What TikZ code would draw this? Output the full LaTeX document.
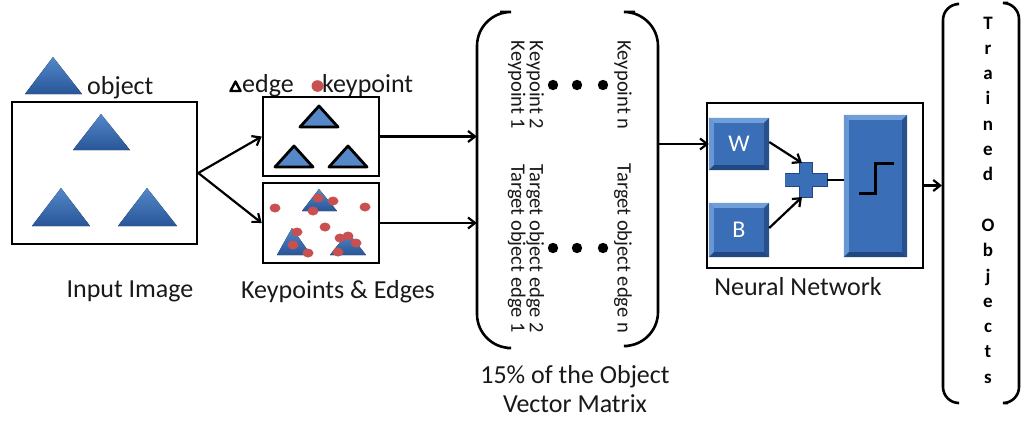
\documentclass[tikz,border=0pt]{standalone}
\usepackage{fontspec}
\setmainfont{Carlito}
\usetikzlibrary{arrows.meta,calc}
\definecolor{triT}{RGB}{84,136,200}
\definecolor{triB}{RGB}{40,86,152}
\definecolor{kpred}{RGB}{200,80,80}
\definecolor{bvface}{RGB}{58,110,182}
\definecolor{bvlight}{RGB}{112,158,216}
\definecolor{bvdark}{RGB}{34,72,130}
\definecolor{txt}{RGB}{25,25,25}
\newcommand{\bevelit}[1]{%
  \fill[bvlight] (#1.north west) -- (#1.north east) -- ([shift={(-5,-5)}]#1.north east) -- ([shift={(5,-5)}]#1.north west) -- cycle;
  \fill[bvlight!85!bvface] (#1.north west) -- ([shift={(5,-5)}]#1.north west) -- ([shift={(5,5)}]#1.south west) -- (#1.south west) -- cycle;
  \fill[bvdark] (#1.south west) -- (#1.south east) -- ([shift={(-5,5)}]#1.south east) -- ([shift={(5,5)}]#1.south west) -- cycle;
  \fill[bvdark!80!bvface] (#1.north east) -- ([shift={(-5,-5)}]#1.north east) -- ([shift={(-5,5)}]#1.south east) -- (#1.south east) -- cycle;
}
\begin{document}
\begin{tikzpicture}[x=1pt,y=1pt,
  box/.style={draw=black,line width=2.6pt,fill=white,inner sep=0pt},
  arr/.style={line width=2.2pt,-{Straight Barb[length=7pt,width=11pt]}},
  ln/.style={line width=2.2pt},
  tri/.style={top color=triT,bottom color=triB},
  etri/.style={fill=triT,draw=black,line width=2.8pt,line join=round},
  kp/.style={fill=kpred},
  lbl/.style={font=\fontsize{26}{28}\selectfont,text=txt,inner sep=0pt},
  rot/.style={rotate=-90,font=\fontsize{20.5}{18.5}\selectfont,text=txt,align=center,inner sep=0pt},
  paren/.style={line width=2.6pt,rounded corners=34pt},
  bvbox/.style={fill=bvface,inner sep=0pt,text=white,font=\fontsize{24}{26}\selectfont},
  tl/.style={font=\bfseries\fontsize{19}{19}\selectfont,text=black,inner sep=0pt}
]
\useasboundingbox (0,0) rectangle (1021,-421);

% legend object
\fill[tri] (25,-94) -- (53,-57) -- (82,-94) -- cycle;
\node[lbl,anchor=base west] (objtxt) at (87,-94) {object};

% input image
\node[box,minimum width=185pt,minimum height=142pt] (inbox) at (104.5,-173) {};
\fill[tri] (73,-150) -- (101,-114) -- (130,-150) -- cycle;
\fill[tri] (32,-226) -- (61,-188) -- (90,-226) -- cycle;
\fill[tri] (118,-226) -- (147,-188) -- (177,-226) -- cycle;
\node[lbl,anchor=base] (inlbl) at (130,-297) {Input Image};

% legend edge / keypoint
\draw[line width=2.4pt,line join=round] (230.5,-91) -- (235.5,-81.5) -- (240.5,-91) -- cycle;
\node[lbl,anchor=base west] (edgetxt) at (242,-92) {edge};
\fill[kpred] (317.5,-86) ellipse (6 and 5.8);
\node[lbl,anchor=base west] (kptxt) at (322,-92) {keypoint};

% keypoint boxes
\node[box,minimum width=116pt,minimum height=79pt] (kbox1) at (321,-136.5) {};
\draw[etri] (300,-127) -- (319,-106) -- (338,-127) -- cycle;
\draw[etri] (275,-167) -- (294,-146) -- (313,-167) -- cycle;
\draw[etri] (329,-167) -- (348,-146) -- (367,-167) -- cycle;

\node[box,minimum width=116pt,minimum height=80pt] (kbox2) at (321,-223) {};
\fill[tri] (302,-211) -- (319,-189) -- (337,-211) -- cycle;
\fill[tri] (277,-255) -- (292,-228) -- (311,-255) -- cycle;
\fill[tri] (330,-255) -- (348,-232) -- (366,-255) -- cycle;
\foreach \px/\py in {275/208, 318/198, 333/201, 313/211, 365/207, 325/227, 297/232, 293/245, 308/253, 340/238, 356/243, 338/252, 348/236}
  \fill[kp] (\px,-\py) ellipse (5.5 and 4.5);
\node[lbl,anchor=base] (kblbl) at (338,-298) {Keypoints \& Edges};

\draw[arr] (inbox.east) -- (kbox1.west);
\draw[arr] (inbox.east) -- (kbox2.west);

% matrix
\node[minimum width=181pt,minimum height=336pt,inner sep=0pt] (mat) at (567.5,-180) {};
\draw[paren] (500,-12) -- (477,-12) -- (477,-348) -- (507,-348);
\draw[paren] (635,-12) -- (658,-12) -- (658,-346) -- (628,-346);
\node[rot] (k12) at (526,-85) {Keypoint 2\\Keypoint 1};
\node[rot] (kn) at (623,-85) {Keypoint n};
\node[rot] (t12) at (526,-248.5) {Target object edge 2\\Target object edge 1};
\node[rot] (tn) at (623,-248.5) {Target object edge n};
\foreach \dx in {553,577,603} {
  \fill (\dx,-85) circle (5.2);
  \fill (\dx,-248) circle (5.2);
}
\node[lbl,anchor=base,align=center] (matlbl) at (575,-383) {15\% of the Object};
\node[lbl,anchor=base] (matlbl2) at (575,-412) {Vector Matrix};

\draw[arr] (kbox1.east) -- (kbox1.east -| mat.west);
\draw[arr] (kbox2.east) -- (kbox2.east -| mat.west);

% neural network
\node[box,minimum width=216pt,minimum height=165pt] (nn) at (815,-185.5) {};
\node[bvbox,minimum width=60pt,minimum height=52pt] (W) at (739,-144) {};
\bevelit{W}
\node[text=white,font=\fontsize{24}{26}\selectfont,inner sep=0pt] (Wt) at (W.center) {W};
\node[bvbox,minimum width=60pt,minimum height=54pt] (B) at (739,-230) {};
\bevelit{B}
\node[text=white,font=\fontsize{24}{26}\selectfont,inner sep=0pt] (Bt) at (B.center) {B};
\node[bvbox,minimum width=63pt,minimum height=142pt] (stepb) at (875.5,-186) {};
\bevelit{stepb}
\draw[line width=3pt] (859,-193) -- (875,-193) -- (875,-163) -- (894,-163);
\node[fill=bvface,draw=bvdark,line width=0.8pt,minimum width=42pt,minimum height=13pt,inner sep=0pt] (plus) at (806,-180) {};
\node[fill=bvface,draw=bvdark,line width=0.8pt,minimum width=13pt,minimum height=35pt,inner sep=0pt] (plusv) at (806,-179.5) {};
\fill[bvface] ([shift={(0.8,-0.8)}]plus.north west) rectangle ([shift={(-0.8,0.8)}]plus.south east);
\node[lbl,anchor=base] (nnlbl) at (798,-295) {Neural Network};

\draw[arr] (mat.east |- W.west) -- (W.west);
\draw[arr] ([yshift=2pt]W.east) -- ([shift={(-4,17)}]plus.center);
\draw[arr] ([yshift=2pt]B.east) -- ([shift={(-4,-17)}]plus.center);
\draw[ln] (plus.east) -- (plus.east -| stepb.west);

% trained objects
\coordinate (outtip) at (942,-185.5);
\draw[arr] (nn.east) -- (outtip);
\draw[line width=2.6pt,rounded corners=16pt] (957,-4) -- (943,-4) -- (943,-403) -- (958,-403);
\draw[line width=2.6pt,rounded corners=16pt] (1008,-3) -- (1019,-3) -- (1019,-403) -- (1008,-403);
\foreach \ch [count=\i from 0] in {T,r,a,i,n,e,d,{},O,b,j,e,c,t,s}
  \node[tl,anchor=base] (to\i) at (988,-29-25.3*\i) {\ch};
\end{tikzpicture}
\end{document}
